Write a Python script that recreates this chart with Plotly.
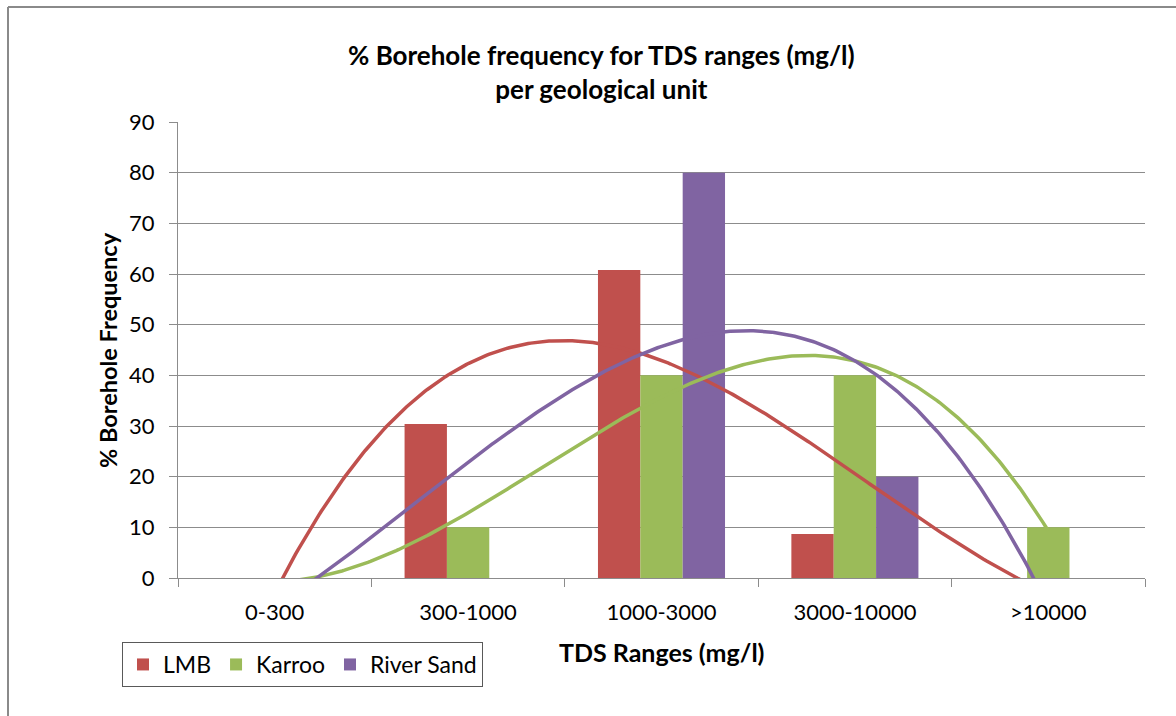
import numpy as np
import plotly.graph_objects as go

categories = ["0-300", "300-1000", "1000-3000", "3000-10000", ">10000"]
lmb = [0, 30.4, 60.8, 8.7, 0]
karroo = [0, 10, 40, 40, 10]
river_sand = [0, 0, 80, 20, 0]

series = [("LMB", lmb, "#C0504D"), ("Karroo", karroo, "#9BBB59"), ("River Sand", river_sand, "#8064A2")]

FONT = "Lato"
W, H = 1176, 716
L, R, T, B = 178, 31, 122, 138
PW, PH = W - L - R, H - T - B

def px_x(p):
    return (p - L) / PW

def px_y(p):
    return (H - B - p) / PH

fig = go.Figure()
for name, vals, col in series:
    fig.add_trace(go.Bar(x=categories, y=vals, name=name, marker=dict(color=col, line=dict(width=0))))

# polynomial (order 3) trendlines, as in the spreadsheet chart
idx = np.arange(len(categories))
xs = np.linspace(idx[0], idx[-1], 300)
for name, vals, col in series:
    coef = np.polyfit(idx, vals, 3)
    fig.add_trace(go.Scatter(x=xs, y=np.polyval(coef, xs), mode="lines", xaxis="x2",
                             line=dict(color=col, width=3.5), showlegend=False, hoverinfo="skip"))

grid = "#8C8C8C"
fig.update_layout(
    width=W, height=H,
    margin=dict(l=L, r=R, t=T, b=B),
    paper_bgcolor="white", plot_bgcolor="white",
    barmode="group", bargap=0.343, bargroupgap=0,
    font=dict(family=FONT, size=22, color="#000000"),
    xaxis=dict(type="category", tickson="boundaries", showgrid=False, showline=True,
               linecolor=grid, linewidth=1, ticks="outside", ticklen=8, tickcolor=grid,
               tickfont=dict(size=22, color="#000000"), ticklabelstandoff=15,
               range=[-0.5, 4.5]),
    xaxis2=dict(overlaying="x", range=[-0.5, 4.5], visible=False),
    yaxis=dict(range=[0, 90], dtick=10, showgrid=True, gridcolor=grid, gridwidth=1,
               showline=True, linecolor=grid, linewidth=1, ticks="outside", ticklen=8,
               tickcolor=grid, tickfont=dict(size=22, color="#000000"), zeroline=False,
               ticklabelstandoff=10),
    showlegend=True,
    legend=dict(orientation="h", x=px_x(122), y=px_y(642), xanchor="left", yanchor="top",
                bordercolor="#595959", borderwidth=1, font=dict(size=23, family=FONT),
                bgcolor="white"),
    annotations=[
        dict(text="<b>% Borehole frequency for TDS ranges (mg/l)<br>per geological unit</b>",
             xref="paper", yref="paper", x=px_x(601), y=px_y(72), xanchor="center", yanchor="middle",
             showarrow=False, font=dict(size=26, family=FONT, color="#000000")),
        dict(text="<b>% Borehole Frequency</b>", xref="paper", yref="paper", x=px_x(108), y=0.5,
             textangle=-90, xanchor="center", yanchor="middle", showarrow=False,
             font=dict(size=23.5, family=FONT, color="#000000")),
        dict(text="<b>TDS Ranges (mg/l)</b>", xref="paper", yref="paper", x=0.5, y=px_y(652),
             xanchor="center", yanchor="middle", showarrow=False,
             font=dict(size=25, family=FONT, color="#000000")),
    ],
    shapes=[
        dict(type="line", xref="paper", yref="paper", x0=px_x(8), x1=px_x(8), y0=px_y(7), y1=px_y(730),
             line=dict(color="#8A8A8A", width=2)),
        dict(type="line", xref="paper", yref="paper", x0=px_x(8), x1=px_x(1190), y0=px_y(7), y1=px_y(7),
             line=dict(color="#8A8A8A", width=2)),
    ],
)

fig.write_html("out.html")
